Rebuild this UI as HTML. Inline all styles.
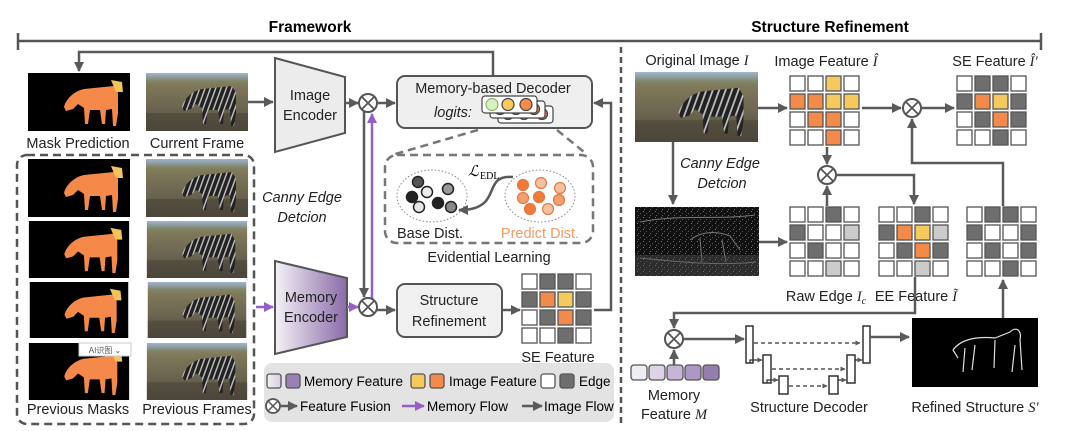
<!DOCTYPE html>
<html><head><meta charset="utf-8"><style>
html,body{margin:0;padding:0;background:#fff;}
svg{display:block;font-family:"Liberation Sans",sans-serif;}
.t{font-size:14.5px;fill:#222;text-anchor:middle;}
.i{font-style:italic;}
.W{fill:#fff}.G{fill:#6e6e6e}.L{fill:#cbcbcb}.O{fill:#f38a4a}.Y{fill:#f6c95e}
.c rect{stroke:#555;stroke-width:1.3;width:15px;height:15px;}
.ln{stroke:#5a5a5a;stroke-width:2.5;fill:none;}
.pl{stroke:#9560c4;stroke-width:2.5;fill:none;}
</style></head><body>
<svg width="1080" height="431" viewBox="0 0 1080 431" xmlns="http://www.w3.org/2000/svg">
<defs>
<marker id="a" viewBox="0 0 10 10" refX="9" refY="5" markerWidth="4" markerHeight="4" orient="auto"><path d="M0,0L10,5L0,10z" fill="#5a5a5a"/></marker>
<marker id="p" viewBox="0 0 10 10" refX="9" refY="5" markerWidth="4" markerHeight="4" orient="auto"><path d="M0,0L10,5L0,10z" fill="#9560c4"/></marker>
<linearGradient id="grass" x1="0" y1="0" x2="0" y2="1"><stop offset="0" stop-color="#9fb6d4"/><stop offset="0.14" stop-color="#7f8466"/><stop offset="0.2" stop-color="#80795a"/><stop offset="0.6" stop-color="#6b6450"/><stop offset="1" stop-color="#4f4a3c"/></linearGradient>
<linearGradient id="mem" x1="0" y1="0" x2="1" y2="0"><stop offset="0" stop-color="#f4f2f6"/><stop offset="1" stop-color="#8a6aa8"/></linearGradient>
<linearGradient id="memL" x1="0" y1="0" x2="1" y2="0"><stop offset="0" stop-color="#f2f0f4"/><stop offset="1" stop-color="#d8cce4"/></linearGradient>
<pattern id="str" width="5" height="5" patternUnits="userSpaceOnUse" patternTransform="rotate(20)"><rect width="5" height="5" fill="#222"/><rect width="1.5" height="5" fill="#bbb"/></pattern>
<pattern id="noise" width="6" height="6" patternUnits="userSpaceOnUse"><rect width="6" height="6" fill="#111"/><rect x="1" y="1" width="1" height="1" fill="#777"/><rect x="4" y="3" width="1" height="1" fill="#555"/><rect x="2" y="5" width="1" height="1" fill="#666"/></pattern>
<symbol id="mask" viewBox="0 0 102 58"><rect width="102" height="58" fill="#000"/><path d="M36,34 C38,26 46,18 56,16 L86,13 L90,20 L90,40 L88,53 L85,53 L84,36 L78,37 L77,51 L74,51 L72,37 L62,37 L60,51 L57,51 L56,35 L50,31 L45,36 L38,38 Z" fill="#f5894a"/><path d="M83,7 L94,9 L95,19 L88,19 Z" fill="#f4c35a"/></symbol>
<symbol id="zeb" viewBox="0 0 102 58"><rect width="102" height="58" fill="url(#grass)"/><rect y="40" width="102" height="18" fill="#4a4538" opacity="0.6"/><path d="M36,34 C38,26 46,18 56,16 L86,13 L90,20 L90,40 L88,53 L85,53 L84,36 L78,37 L77,51 L74,51 L72,37 L62,37 L60,51 L57,51 L56,35 L50,31 L45,36 L38,38 Z" fill="url(#str)"/></symbol>
</defs>

<text x="310" y="32" style="font-size:15.5px;font-weight:bold;text-anchor:middle">Framework</text>
<text x="830" y="32" style="font-size:15.5px;font-weight:bold;text-anchor:middle">Structure Refinement</text>
<line x1="18" y1="41" x2="1041" y2="41" stroke="#555" stroke-width="2.5"/>
<line x1="18" y1="33" x2="18" y2="50" stroke="#555" stroke-width="2.5"/>
<line x1="1041" y1="33" x2="1041" y2="50" stroke="#555" stroke-width="2.5"/>
<line x1="621" y1="47" x2="621" y2="425" stroke="#555" stroke-width="2.5" stroke-dasharray="6 4"/>

<polyline class="ln" points="493,76 493,52 79,52 79,71" marker-end="url(#a)"/>
<use href="#mask" x="28" y="73" width="102" height="58"/>
<use href="#zeb" x="146" y="73" width="102" height="58"/>
<text class="t" x="78" y="148">Mask Prediction</text>
<text class="t" x="197" y="148">Current Frame</text>
<rect x="17" y="155" width="237" height="269" rx="10" fill="none" stroke="#555" stroke-width="2.5" stroke-dasharray="8 5"/>
<use href="#mask" x="28" y="159" width="102" height="58"/><use href="#zeb" x="146" y="159" width="102" height="58"/>
<use href="#mask" x="28" y="221" width="102" height="57"/><use href="#zeb" x="146" y="221" width="102" height="57"/>
<use href="#mask" x="28" y="282" width="102" height="56"/><use href="#zeb" x="146" y="282" width="102" height="56"/>
<use href="#mask" x="28" y="343" width="102" height="57"/><use href="#zeb" x="146" y="343" width="102" height="57"/>
<rect x="79" y="343" width="52" height="13" fill="#fff" stroke="#ccc"/><text x="105" y="353" style="font-size:8px;text-anchor:middle;fill:#555">AI识图 ⌄</text>
<text class="t" x="78" y="414">Previous Masks</text>
<text class="t" x="197" y="414">Previous Frames</text>

<line class="ln" x1="248" y1="102" x2="273" y2="102" marker-end="url(#a)"/>
<polygon points="275,58 345,77 345,133 275,152" fill="#ececec" stroke="#555" stroke-width="2"/>
<text class="t" x="310" y="100">Image</text><text class="t" x="310" y="120">Encoder</text>
<line class="ln" x1="345" y1="103" x2="358" y2="103" marker-end="url(#a)"/>
<circle cx="368" cy="103" r="9" fill="#fff" stroke="#555" stroke-width="2"/><path d="M362,97L374,109M374,97L362,109" stroke="#555" stroke-width="1.8"/>
<line class="ln" x1="377" y1="103" x2="395" y2="103" marker-end="url(#a)"/>
<line class="ln" x1="364" y1="112" x2="364" y2="297" marker-end="url(#a)"/>
<line class="pl" x1="372" y1="299" x2="372" y2="114" marker-end="url(#p)"/>
<text class="t i" x="302" y="202">Canny Edge</text><text class="t i" x="302" y="222">Detcion</text>
<line class="pl" x1="256" y1="307" x2="273" y2="307" marker-end="url(#p)"/>
<polygon points="275,261 347,278 347,337 275,354" fill="url(#mem)" stroke="#555" stroke-width="2"/>
<text class="t" x="311" y="302">Memory</text><text class="t" x="311" y="322">Encoder</text>
<line class="pl" x1="347" y1="307" x2="358" y2="307" marker-end="url(#p)"/>
<circle cx="368" cy="307" r="9" fill="#fff" stroke="#555" stroke-width="2"/><path d="M362,301L374,313M374,301L362,313" stroke="#555" stroke-width="1.8"/>
<line class="ln" x1="377" y1="310" x2="395" y2="310" marker-end="url(#a)"/>
<rect x="397" y="284" width="105" height="53" rx="8" fill="#f0f0f0" stroke="#555" stroke-width="2"/>
<text class="t" x="449" y="305">Structure</text><text class="t" x="449" y="326">Refinement</text>
<line class="ln" x1="502" y1="310" x2="520" y2="310" marker-end="url(#a)"/>
<polyline class="ln" points="594,310 611,310 611,103 594,103" marker-end="url(#a)"/>

<rect x="397" y="76" width="195" height="52" rx="8" fill="#efefef" stroke="#555" stroke-width="2"/>
<text class="t" x="493" y="93">Memory-based Decoder</text>
<text class="t i" x="453" y="117">logits:</text>
<g stroke="#444" stroke-width="1.2">
<rect x="498" y="106" width="55" height="17" rx="3" fill="#fff"/><circle cx="508" cy="114" r="5.5" fill="#7aa04a"/><circle cx="524" cy="114" r="5.5" fill="#e6d08a"/><circle cx="542" cy="114" r="5.5" fill="#f07a3a"/>
<rect x="490" y="101" width="55" height="17" rx="3" fill="#fff"/><circle cx="500" cy="109" r="5.5" fill="#6f9f3a"/><circle cx="516" cy="109" r="5.5" fill="#e8c65a"/><circle cx="534" cy="109" r="5.5" fill="#f07a3a"/>
<rect x="482" y="96" width="55" height="17" rx="3" fill="#fff"/><circle cx="492" cy="104.5" r="6" fill="#d8efc4" stroke="#8ab86a"/><circle cx="508" cy="104.5" r="6" fill="#f6c95e"/><circle cx="526" cy="104.5" r="6" fill="#f38a4a"/>
</g>

<g stroke="#777" stroke-width="2.5" stroke-dasharray="8 5" fill="none">
<line x1="478" y1="130" x2="392" y2="155"/><line x1="557" y1="130" x2="584" y2="152"/>
<rect x="385" y="155" width="208" height="88" rx="12"/>
</g>
<ellipse cx="432" cy="196" rx="35" ry="26" fill="none" stroke="#888" stroke-dasharray="1.5 2"/>
<ellipse cx="540" cy="196" rx="35" ry="26" fill="none" stroke="#888" stroke-dasharray="1.5 2"/>
<g stroke="#222" stroke-width="1.5">
<circle cx="418" cy="182" r="5.5" fill="#555"/><circle cx="412" cy="197" r="5.5" fill="#222"/><circle cx="427" cy="192" r="5.5" fill="#eee"/><circle cx="448" cy="189" r="5.5" fill="#999"/><circle cx="438" cy="203" r="5.5" fill="#222"/><circle cx="419" cy="207" r="5.5" fill="#e6e6e6"/><circle cx="451" cy="207" r="5.5" fill="#888"/>
</g>
<g stroke="#e27a45" stroke-width="1.2">
<circle cx="523" cy="185" r="5.5" fill="#f07a3a"/><circle cx="541" cy="183" r="5.5" fill="#f6c0a0"/><circle cx="560" cy="188" r="5.5" fill="#f6c0a0"/><circle cx="523" cy="198" r="5.5" fill="#f2a070"/><circle cx="539" cy="197" r="5.5" fill="#f07a3a"/><circle cx="559" cy="200" r="5.5" fill="#f2a070"/><circle cx="530" cy="209" r="5.5" fill="#f07a3a"/><circle cx="548" cy="209" r="5.5" fill="#f6c0a0"/>
</g>
<path d="M513,177 C490,175 495,192 485,202 C478,209 468,210 459,210" class="ln" stroke-width="1.8" marker-end="url(#a)"/>
<text x="468" y="176" style="font-size:15px;font-family:'Liberation Serif',serif;font-style:italic">ℒ</text><text x="480" y="179" style="font-size:10px;font-family:'Liberation Serif',serif">EDL</text>
<text class="t" x="430" y="238">Base Dist.</text>
<text class="t" x="540" y="238" style="fill:#f39a62">Predict Dist.</text>
<text class="t" x="489" y="262">Evidential Learning</text>

<g class="c" transform="translate(522,274)">
<rect x="0" y="0" class="W"/><rect x="18" y="0" class="G"/><rect x="36" y="0" class="G"/><rect x="54" y="0" class="W"/>
<rect x="0" y="18" class="G"/><rect x="18" y="18" class="O"/><rect x="36" y="18" class="Y"/><rect x="54" y="18" class="G"/>
<rect x="0" y="36" class="W"/><rect x="18" y="36" class="G"/><rect x="36" y="36" class="O"/><rect x="54" y="36" class="G"/>
<rect x="0" y="54" class="W"/><rect x="18" y="54" class="W"/><rect x="36" y="54" class="G"/><rect x="54" y="54" class="W"/>
</g>
<text class="t" x="558" y="362">SE Feature</text>

<rect x="264" y="363" width="350" height="59" rx="8" fill="#e3e3e3"/>
<g stroke="#555" stroke-width="1.3">
<rect x="267" y="374" width="14" height="14" rx="2.5" fill="url(#memL)"/><rect x="286" y="374" width="14" height="14" rx="2.5" fill="#9a80b4"/>
<rect x="411" y="374" width="14" height="14" rx="2.5" fill="#f6c95e"/><rect x="430" y="374" width="14" height="14" rx="2.5" fill="#f38a4a"/>
<rect x="541" y="374" width="14" height="14" rx="2.5" fill="#fff"/><rect x="560" y="374" width="14" height="14" rx="2.5" fill="#6e6e6e"/>
</g>
<text x="304" y="386" style="font-size:13.5px">Memory Feature</text>
<text x="449" y="386" style="font-size:13.5px">Image Feature</text>
<text x="579" y="386" style="font-size:13.5px">Edge</text>
<circle cx="273" cy="406" r="7" fill="#fff" stroke="#555" stroke-width="1.8"/><path d="M268,401L278,411M278,401L268,411" stroke="#555" stroke-width="1.5"/>
<line class="ln" x1="280" y1="406" x2="297" y2="406" marker-end="url(#a)"/>
<text x="300" y="411" style="font-size:13.5px">Feature Fusion</text>
<line class="pl" x1="402" y1="406" x2="424" y2="406" marker-end="url(#p)"/>
<text x="427" y="411" style="font-size:13.5px">Memory Flow</text>
<line class="ln" x1="522" y1="406" x2="542" y2="406" marker-end="url(#a)"/>
<text x="544" y="411" style="font-size:13.5px">Image Flow</text>

<text class="t" x="697" y="65">Original Image <tspan style="font-family:'Liberation Serif',serif;font-style:italic">I</tspan></text>
<use href="#zeb" x="635" y="72" width="123" height="70"/>
<text class="t" x="826" y="66">Image Feature <tspan style="font-family:'Liberation Serif',serif;font-style:italic">Î</tspan></text>
<text class="t" x="995" y="66">SE Feature <tspan style="font-family:'Liberation Serif',serif;font-style:italic">Î′</tspan></text>
<line class="ln" x1="758" y1="108" x2="787" y2="108" marker-end="url(#a)"/>
<line class="ln" x1="862" y1="108" x2="901" y2="108" marker-end="url(#a)"/>
<circle cx="912" cy="108" r="9" fill="#fff" stroke="#555" stroke-width="2"/><path d="M906,102L918,114M918,102L906,114" stroke="#555" stroke-width="1.8"/>
<line class="ln" x1="921" y1="108" x2="954" y2="108" marker-end="url(#a)"/>
<line class="ln" x1="827" y1="147" x2="827" y2="164" marker-end="url(#a)"/>
<circle cx="827" cy="175" r="9" fill="#fff" stroke="#555" stroke-width="2"/><path d="M821,169L833,181M833,169L821,181" stroke="#555" stroke-width="1.8"/>
<line class="ln" x1="827" y1="206" x2="827" y2="186" marker-end="url(#a)"/>
<polyline class="ln" points="836,175 914,175 914,204" marker-end="url(#a)"/>
<polyline class="ln" points="1003,206 1003,163 912,163 912,119" marker-end="url(#a)"/>
<line class="ln" x1="673" y1="142" x2="673" y2="204" marker-end="url(#a)"/>
<text class="t i" x="720" y="168">Canny Edge</text><text class="t i" x="722" y="188">Detcion</text>
<rect x="635" y="207" width="124" height="69" fill="url(#noise)"/>
<path d="M640,222 C680,214 720,220 755,215 M690,240 C700,232 715,230 730,236 L740,250 M700,238 L702,262 M722,240 L726,262 M640,258 C680,262 720,266 756,262" stroke="#777" stroke-width="1" fill="none"/>
<rect x="635" y="255" width="124" height="21" fill="#555" opacity="0.4"/>
<line class="ln" x1="759" y1="242" x2="787" y2="242" marker-end="url(#a)"/>

<g class="c" transform="translate(790,76)">
<rect x="0" y="0" class="W"/><rect x="18" y="0" class="W"/><rect x="36" y="0" class="Y"/><rect x="54" y="0" class="W"/>
<rect x="0" y="18" class="O"/><rect x="18" y="18" class="O"/><rect x="36" y="18" class="Y"/><rect x="54" y="18" class="Y"/>
<rect x="0" y="36" class="W"/><rect x="18" y="36" class="O"/><rect x="36" y="36" class="O"/><rect x="54" y="36" class="W"/>
<rect x="0" y="54" class="W"/><rect x="18" y="54" class="W"/><rect x="36" y="54" class="O"/><rect x="54" y="54" class="W"/>
</g>
<g class="c" transform="translate(957,76)">
<rect x="0" y="0" class="W"/><rect x="18" y="0" class="G"/><rect x="36" y="0" class="G"/><rect x="54" y="0" class="W"/>
<rect x="0" y="18" class="G"/><rect x="18" y="18" class="O"/><rect x="36" y="18" class="Y"/><rect x="54" y="18" class="G"/>
<rect x="0" y="36" class="W"/><rect x="18" y="36" class="G"/><rect x="36" y="36" class="O"/><rect x="54" y="36" class="G"/>
<rect x="0" y="54" class="W"/><rect x="18" y="54" class="W"/><rect x="36" y="54" class="G"/><rect x="54" y="54" class="W"/>
</g>
<g class="c" transform="translate(790,207)">
<rect x="0" y="0" class="W"/><rect x="18" y="0" class="W"/><rect x="36" y="0" class="G"/><rect x="54" y="0" class="W"/>
<rect x="0" y="18" class="G"/><rect x="18" y="18" class="W"/><rect x="36" y="18" class="W"/><rect x="54" y="18" class="L"/>
<rect x="0" y="36" class="W"/><rect x="18" y="36" class="G"/><rect x="36" y="36" class="W"/><rect x="54" y="36" class="W"/>
<rect x="0" y="54" class="W"/><rect x="18" y="54" class="W"/><rect x="36" y="54" class="L"/><rect x="54" y="54" class="W"/>
</g>
<g class="c" transform="translate(879,207)">
<rect x="0" y="0" class="W"/><rect x="18" y="0" class="W"/><rect x="36" y="0" class="G"/><rect x="54" y="0" class="W"/>
<rect x="0" y="18" class="G"/><rect x="18" y="18" class="O"/><rect x="36" y="18" class="Y"/><rect x="54" y="18" class="L"/>
<rect x="0" y="36" class="W"/><rect x="18" y="36" class="G"/><rect x="36" y="36" class="O"/><rect x="54" y="36" class="G"/>
<rect x="0" y="54" class="W"/><rect x="18" y="54" class="W"/><rect x="36" y="54" class="L"/><rect x="54" y="54" class="W"/>
</g>
<g class="c" transform="translate(967,207)">
<rect x="0" y="0" class="W"/><rect x="18" y="0" class="G"/><rect x="36" y="0" class="G"/><rect x="54" y="0" class="W"/>
<rect x="0" y="18" class="G"/><rect x="18" y="18" class="W"/><rect x="36" y="18" class="W"/><rect x="54" y="18" class="G"/>
<rect x="0" y="36" class="W"/><rect x="18" y="36" class="G"/><rect x="36" y="36" class="W"/><rect x="54" y="36" class="G"/>
<rect x="0" y="54" class="W"/><rect x="18" y="54" class="W"/><rect x="36" y="54" class="G"/><rect x="54" y="54" class="W"/>
</g>
<text class="t" x="826" y="301">Raw Edge <tspan style="font-family:'Liberation Serif',serif;font-style:italic">I<tspan style="font-size:10px" dy="3">c</tspan></tspan></text>
<text class="t" x="916" y="301">EE Feature <tspan style="font-family:'Liberation Serif',serif;font-style:italic">Ĩ</tspan></text>

<polyline class="ln" points="915,277 915,313 674,313 674,328" marker-end="url(#a)"/>
<circle cx="674" cy="339" r="9" fill="#fff" stroke="#555" stroke-width="2"/><path d="M668,333L680,345M680,333L668,345" stroke="#555" stroke-width="1.8"/>
<line class="ln" x1="674" y1="365" x2="674" y2="350" marker-end="url(#a)"/>
<line class="ln" x1="683" y1="339" x2="744" y2="339" marker-end="url(#a)"/>
<g stroke="#555" stroke-width="1.3">
<rect x="631" y="365" width="16" height="15" rx="3" fill="#efedf1"/><rect x="649" y="365" width="16" height="15" rx="3" fill="#ddd2e6"/><rect x="667" y="365" width="16" height="15" rx="3" fill="#c6b5d6"/><rect x="685" y="365" width="16" height="15" rx="3" fill="#ad98c4"/><rect x="703" y="365" width="16" height="15" rx="3" fill="#957dae"/>
</g>
<text class="t" x="674" y="400">Memory</text>
<text class="t" x="674" y="419">Feature <tspan style="font-family:'Liberation Serif',serif;font-style:italic">M</tspan></text>

<g fill="#fff" stroke="#333" stroke-width="1.5">
<rect x="746" y="326" width="7" height="37"/><rect x="763" y="355" width="8" height="28"/><rect x="779" y="376" width="9" height="18"/>
<rect x="829" y="376" width="9" height="18"/><rect x="847" y="355" width="8" height="28"/><rect x="863" y="326" width="7" height="37"/>
</g>
<g stroke="#333" stroke-width="1.3" stroke-dasharray="4 3">
<line x1="754" y1="343" x2="860" y2="343" marker-end="url(#a)"/><line x1="772" y1="369" x2="845" y2="369" marker-end="url(#a)"/><line x1="789" y1="386" x2="827" y2="386" marker-end="url(#a)"/>
</g>
<g stroke="#333" stroke-width="1.3" fill="none">
<polyline points="750,363 750,360 762,360" marker-end="url(#a)"/><polyline points="767,383 767,380 778,380" marker-end="url(#a)"/>
<polyline points="838,380 846,380" marker-end="url(#a)"/><polyline points="855,360 862,360" marker-end="url(#a)"/>
</g>
<line class="ln" x1="870" y1="337" x2="909" y2="337" marker-end="url(#a)"/>
<rect x="912" y="318" width="126" height="69" fill="#000"/>
<path d="M953,350 C960,340 975,336 995,338 L1010,332 C1016,326 1022,330 1020,340 L1022,370 M1015,345 L1012,372 M995,340 L994,368 M975,345 L972,370 M965,348 L963,372 M953,350 L958,358" stroke="#ddd" stroke-width="1.2" fill="none"/>
<text class="t" x="809" y="412">Structure Decoder</text>
<text class="t" x="975" y="412">Refined Structure <tspan style="font-family:'Liberation Serif',serif;font-style:italic">S′</tspan></text>
<line class="ln" x1="1003" y1="318" x2="1003" y2="280" marker-end="url(#a)"/>
</svg>
</body></html>
